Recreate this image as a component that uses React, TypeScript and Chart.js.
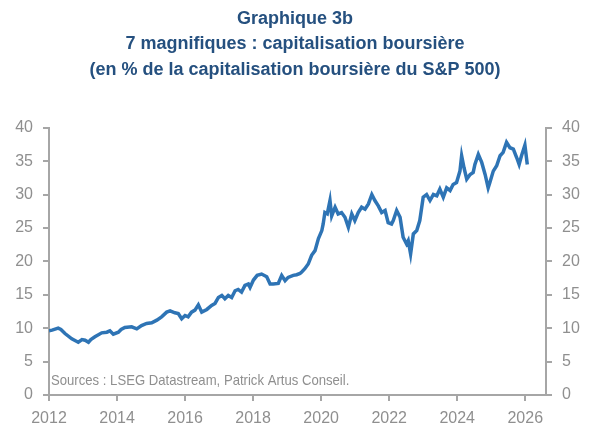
import React, { useEffect, useRef } from "react";
import { Chart, registerables } from "chart.js";

Chart.register(...registerables);

const titleLines = [
  "Graphique 3b",
  "7 magnifiques : capitalisation boursière",
  "(en % de la capitalisation boursière du S&P 500)",
];
const sourceText = "Sources : LSEG Datastream, Patrick Artus Conseil.";

const years = [
  2012.0, 2012.09, 2012.27, 2012.35, 2012.47, 2012.67, 2012.86, 2012.97, 2013.06, 2013.16,
  2013.23, 2013.35, 2013.55, 2013.7, 2013.79, 2013.89, 2014.04, 2014.12, 2014.23, 2014.43,
  2014.58, 2014.72, 2014.87, 2015.02, 2015.17, 2015.31, 2015.46, 2015.56, 2015.7, 2015.8,
  2015.9, 2016.0, 2016.09, 2016.19, 2016.29, 2016.39, 2016.49, 2016.64, 2016.78, 2016.88,
  2016.98, 2017.08, 2017.17, 2017.27, 2017.37, 2017.47, 2017.56, 2017.66, 2017.76, 2017.86,
  2017.91, 2018.01, 2018.12, 2018.25, 2018.4, 2018.5, 2018.59, 2018.74, 2018.84, 2018.94,
  2019.03, 2019.18, 2019.28, 2019.38, 2019.43, 2019.52, 2019.62, 2019.72, 2019.82, 2019.92,
  2020.02, 2020.06, 2020.11, 2020.18, 2020.26, 2020.31, 2020.41, 2020.5, 2020.6, 2020.7,
  2020.8, 2020.9, 2020.99, 2021.09, 2021.19, 2021.29, 2021.39, 2021.49, 2021.58, 2021.68,
  2021.78, 2021.88, 2021.97, 2022.07, 2022.12, 2022.22, 2022.32, 2022.41, 2022.51, 2022.56,
  2022.63, 2022.71, 2022.81, 2022.9, 2023.0, 2023.1, 2023.2, 2023.3, 2023.4, 2023.49,
  2023.59, 2023.69, 2023.79, 2023.88, 2023.98, 2024.08, 2024.13, 2024.2, 2024.28, 2024.38,
  2024.47, 2024.52, 2024.62, 2024.72, 2024.82, 2024.91, 2024.96, 2025.06, 2025.16, 2025.26,
  2025.35, 2025.45, 2025.55, 2025.65, 2025.75, 2025.82, 2025.89, 2025.99, 2026.06,
];

const values = [
  9.6, 9.7, 10.0, 9.8, 9.2, 8.4, 7.9, 8.3, 8.2, 7.9,
  8.3, 8.7, 9.3, 9.4, 9.6, 9.1, 9.4, 9.8, 10.1, 10.2,
  9.9, 10.4, 10.7, 10.8, 11.2, 11.7, 12.4, 12.6, 12.3, 12.2,
  11.4, 11.9, 11.7, 12.4, 12.7, 13.5, 12.4, 12.8, 13.4, 13.7,
  14.6, 14.9, 14.4, 14.9, 14.6, 15.6, 15.8, 15.4, 16.4, 16.6,
  16.1, 17.2, 17.9, 18.1, 17.7, 16.6, 16.6, 16.7, 17.9, 17.1,
  17.6, 17.9, 18.0, 18.2, 18.4, 18.9, 19.6, 20.9, 21.6, 23.4,
  24.6, 25.6, 27.3, 27.1, 29.1, 26.8, 28.1, 27.1, 27.3, 26.6,
  25.1, 27.1, 26.1, 27.3, 28.1, 27.8, 28.6, 30.0, 29.1, 28.3,
  27.3, 27.6, 25.8, 25.6, 26.1, 27.6, 26.6, 23.6, 22.6, 23.1,
  21.1, 24.1, 24.6, 26.1, 29.6, 30.0, 29.1, 30.0, 29.8, 30.8,
  29.6, 31.0, 30.6, 31.5, 31.8, 33.5, 35.8, 34.0, 32.3, 33.0,
  33.3, 34.5, 36.0, 34.8, 33.0, 31.0, 31.8, 33.5, 34.3, 35.8,
  36.3, 37.8, 37.0, 36.8, 35.5, 34.5, 35.8, 37.4, 34.5,
];

const yTicks = [0, 5, 10, 15, 20, 25, 30, 35, 40];
const xTicks = [2012, 2014, 2016, 2018, 2020, 2022, 2024, 2026];

const FONT = "'Liberation Sans', Arial, sans-serif";
const AXIS_GRAY = "#a6a6a6";
const LABEL_GRAY = "#8f8f8f";
const LINE_BLUE = "#2e74b5";
const TITLE_BLUE = "#25507f";

const sourcePlugin = {
  id: "sourceText",
  afterDraw(chart: any) {
    const { ctx, chartArea } = chart;
    ctx.save();
    ctx.font = `15px ${FONT}`;
    ctx.fillStyle = LABEL_GRAY;
    ctx.textAlign = "left";
    ctx.textBaseline = "middle";
    ctx.translate(chartArea.left + 2, chartArea.bottom - 14);
    ctx.scale(0.875, 1);
    ctx.fillText(sourceText, 0, 0);
    ctx.restore();
  },
};

export default function App() {
  const ref = useRef<HTMLCanvasElement | null>(null);

  useEffect(() => {
    if (!ref.current) return;
    const points = years.map((x, i) => ({ x, y: values[i] }));
    const tickFont = { family: FONT, size: 16 };
    const chart = new Chart(ref.current, {
      type: "line",
      data: {
        datasets: [
          {
            data: points,
            borderColor: LINE_BLUE,
            borderWidth: 3.5,
            pointRadius: 0,
            tension: 0,
            fill: false,
          },
        ],
      },
      options: {
        animation: false,
        responsive: false,
        maintainAspectRatio: false,
        layout: { padding: { left: 0, right: 0, top: 0, bottom: 0 } },
        plugins: {
          legend: { display: false },
          tooltip: { enabled: false },
          title: {
            display: true,
            text: titleLines,
            color: TITLE_BLUE,
            font: { family: FONT, size: 18, weight: "bold", lineHeight: 1.42 },
            padding: { top: 6, bottom: 45 },
          },
        },
        scales: {
          x: {
            type: "linear",
            min: 2012,
            max: 2026.61,
            border: { display: true, color: AXIS_GRAY, width: 2 },
            grid: { drawOnChartArea: false, drawTicks: true, tickLength: 6, color: AXIS_GRAY, lineWidth: 2 },
            ticks: {
              stepSize: 2,
              includeBounds: false,
              color: LABEL_GRAY,
              font: tickFont,
              padding: 8,
              maxRotation: 0,
              autoSkip: false,
              callback: (v: any) => (xTicks.includes(Number(v)) ? String(v) : ""),
            },
            afterFit: (s: any) => {
              s.height = 31;
            },
          },
          y: {
            position: "left",
            min: 0,
            max: 40,
            border: { display: true, color: AXIS_GRAY, width: 2 },
            grid: { drawOnChartArea: false, drawTicks: true, tickLength: 6, color: AXIS_GRAY, lineWidth: 2 },
            ticks: {
              stepSize: 5,
              color: LABEL_GRAY,
              font: tickFont,
              padding: 10,
              callback: (v: any) => (yTicks.includes(Number(v)) ? String(v) : ""),
            },
            afterFit: (s: any) => {
              s.width = 49;
            },
          },
          y2: {
            position: "right",
            min: 0,
            max: 40,
            border: { display: true, color: AXIS_GRAY, width: 2 },
            grid: { drawOnChartArea: false, drawTicks: true, tickLength: 6, color: AXIS_GRAY, lineWidth: 2 },
            ticks: {
              stepSize: 5,
              color: LABEL_GRAY,
              font: tickFont,
              padding: 10,
              callback: (v: any) => (yTicks.includes(Number(v)) ? String(v) : ""),
            },
            afterFit: (s: any) => {
              s.width = 44;
            },
          },
        },
      },
      plugins: [sourcePlugin],
    });
    return () => chart.destroy();
  }, []);

  return (
    <div style={{ position: "absolute", left: 0, top: 0, width: 590, height: 426, background: "#fff" }}>
      <canvas ref={ref} width={590} height={426} style={{ display: "block", width: 590, height: 426 }} />
    </div>
  );
}
